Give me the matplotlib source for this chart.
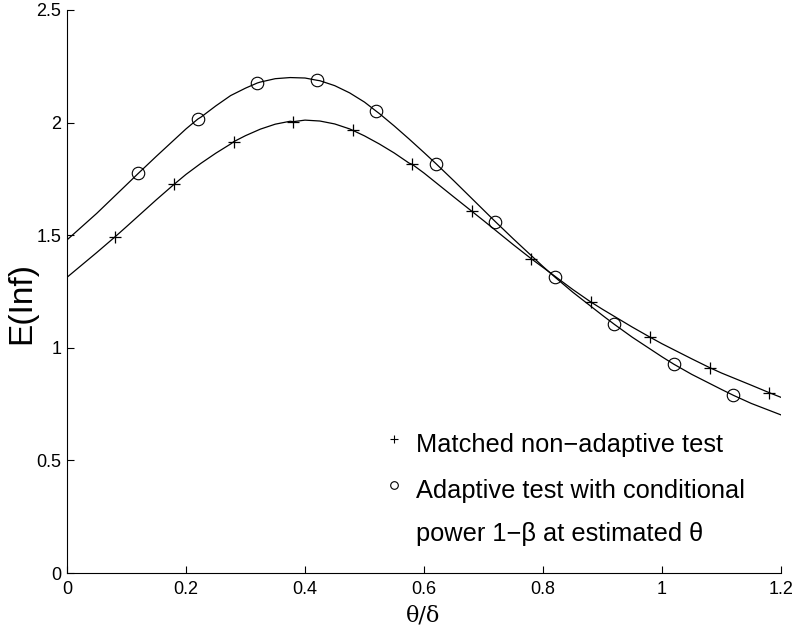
import matplotlib
matplotlib.use("Agg")
import matplotlib.pyplot as plt
from matplotlib.lines import Line2D

plt.rcParams['font.family'] = ['Liberation Sans', 'DejaVu Sans']

# Marker data
matched_x = [0.08, 0.18, 0.28, 0.38, 0.48, 0.58, 0.68, 0.78, 0.88, 0.98, 1.08, 1.18]
matched_y = [1.491, 1.726, 1.915, 2.004, 1.966, 1.815, 1.607, 1.396, 1.204, 1.047, 0.912, 0.801]

adaptive_x = [0.12, 0.22, 0.32, 0.42, 0.52, 0.62, 0.72, 0.82, 0.92, 1.02, 1.12]
adaptive_y = [1.775, 2.016, 2.176, 2.188, 2.050, 1.818, 1.560, 1.314, 1.104, 0.927, 0.789]

# Curve samples
curve_x = [0.0, 0.05, 0.10, 0.15, 0.20, 0.225, 0.25, 0.275, 0.30, 0.325, 0.35, 0.375,
           0.40, 0.425, 0.45, 0.475, 0.50, 0.525, 0.55, 0.575, 0.60, 0.65, 0.70, 0.75,
           0.80, 0.85, 0.90, 0.95, 1.00, 1.05, 1.10, 1.15, 1.20]
matched_curve = [1.313, 1.423, 1.538, 1.657, 1.770, 1.819, 1.864, 1.905, 1.942, 1.971,
                 1.993, 2.006, 2.011, 2.007, 1.994, 1.972, 1.941, 1.905, 1.865, 1.820,
                 1.776, 1.670, 1.565, 1.458, 1.357, 1.259, 1.171, 1.092, 1.018, 0.951,
                 0.888, 0.834, 0.780]
adaptive_curve = [1.479, 1.597, 1.724, 1.850, 1.972, 2.024, 2.074, 2.120, 2.153, 2.180,
                  2.195, 2.200, 2.198, 2.186, 2.164, 2.132, 2.091, 2.040, 1.985, 1.927,
                  1.867, 1.742, 1.612, 1.484, 1.361, 1.247, 1.144, 1.047, 0.960, 0.882,
                  0.815, 0.753, 0.702]

x_ticks = [0, 0.2, 0.4, 0.6, 0.8, 1.0, 1.2]
x_tick_labels = ['0', '0.2', '0.4', '0.6', '0.8', '1', '1.2']
y_ticks = [0, 0.5, 1.0, 1.5, 2.0, 2.5]
y_tick_labels = ['0', '0.5', '1', '1.5', '2', '2.5']

legend_labels = ['Matched non\u2212adaptive test',
                 'Adaptive test with conditional',
                 'power 1\u2212\u03b2 at estimated \u03b8']


def merged(cx, cy, mx, my):
    pts = dict(zip(cx, cy))
    pts.update(dict(zip(mx, my)))
    keys = sorted(pts)
    return keys, [pts[k] for k in keys]


fig = plt.figure(figsize=(7.93, 6.28), dpi=100)
ax = fig.add_axes([67/793, 55/628, 714/793, 563/628])

lx, ly = merged(curve_x, matched_curve, matched_x, matched_y)
ax.plot(lx, ly, color='black', lw=0.9)
lx, ly = merged(curve_x, adaptive_curve, adaptive_x, adaptive_y)
ax.plot(lx, ly, color='black', lw=0.9)

ax.plot(matched_x, matched_y, ls='none', marker='+', ms=9, mew=0.9, color='black')
ax.plot(adaptive_x, adaptive_y, ls='none', marker='o', ms=9, mew=0.8,
        mfc='none', mec='black')

ax.set_xlim(0, 1.2)
ax.set_ylim(0, 2.5)
ax.set_xticks(x_ticks)
ax.set_xticklabels(x_tick_labels)
ax.set_yticks(y_ticks)
ax.set_yticklabels(y_tick_labels)
ax.tick_params(direction='in', length=5, width=0.8, labelsize=13, colors='black')
ax.tick_params(axis='x', pad=6)
ax.tick_params(axis='y', pad=4)
for s in ['top', 'right']:
    ax.spines[s].set_visible(False)
for s in ['left', 'bottom']:
    ax.spines[s].set_linewidth(0.8)

ax.set_xlabel('\u03b8/\u03b4', fontsize=16, family=['DejaVu Serif'])
ax.xaxis.set_label_coords(0.499, -0.056)
ax.set_ylabel('E(Inf)', fontsize=24)
ax.yaxis.set_label_coords(-0.041, 0.479)

# legend-style annotation
ax.add_line(Line2D([0.458], [0.238], transform=ax.transAxes, marker='+', ms=6,
                   mew=0.8, color='black', ls='none'))
ax.add_line(Line2D([0.458], [0.156], transform=ax.transAxes, marker='o', ms=5.5,
                   mew=0.8, mfc='none', mec='black', ls='none'))
for lbl, yy in zip(legend_labels, [0.215, 0.133, 0.057]):
    ax.text(0.489, yy, lbl, transform=ax.transAxes, fontsize=18.3,
            va='baseline', ha='left')

fig.savefig('out.png', dpi=100)
